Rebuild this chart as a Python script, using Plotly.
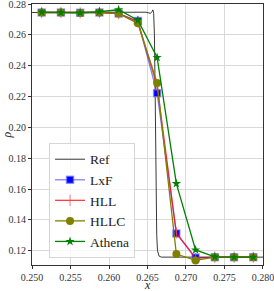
import plotly.graph_objects as go

x_cells = [0.25125, 0.25375, 0.25625, 0.25875, 0.26125, 0.26375, 0.26625, 0.26875, 0.27125, 0.27375, 0.27625, 0.27875]
rho_lxf = [0.2745, 0.2745, 0.2743, 0.2745, 0.2738, 0.2690, 0.2222, 0.1312, 0.1155, 0.1158, 0.1158, 0.1158]
rho_hll = [0.2745, 0.2745, 0.2743, 0.2745, 0.2738, 0.2685, 0.2270, 0.1315, 0.1150, 0.1158, 0.1158, 0.1158]
rho_hllc = [0.2745, 0.2745, 0.2742, 0.2745, 0.2738, 0.2675, 0.2288, 0.1178, 0.1137, 0.1158, 0.1158, 0.1158]
rho_athena = [0.2748, 0.2745, 0.2743, 0.2750, 0.2763, 0.2695, 0.2453, 0.1635, 0.1205, 0.1160, 0.1158, 0.1158]

x_ref = [0.2500, 0.2600, 0.2640, 0.2648, 0.2652, 0.2654, 0.2656, 0.2657, 0.2658, 0.2659, 0.2660, 0.2661, 0.2662, 0.2663, 0.2665, 0.2668, 0.2700, 0.2850]
rho_ref = [0.2745, 0.2745, 0.2744, 0.2747, 0.2742, 0.2740, 0.2752, 0.2762, 0.2740, 0.2600, 0.2200, 0.1700, 0.1300, 0.1200, 0.1165, 0.1158, 0.1158, 0.1158]

x_ticks = [0.250, 0.255, 0.260, 0.265, 0.270, 0.275, 0.280]
y_ticks = [0.12, 0.14, 0.16, 0.18, 0.20, 0.22, 0.24, 0.26, 0.28]

fig = go.Figure()
fig.add_trace(go.Scatter(x=x_ref, y=rho_ref, mode="lines", name="Ref",
                         line=dict(color="#222222", width=0.9)))
fig.add_trace(go.Scatter(x=x_cells, y=rho_lxf, mode="lines+markers", name="LxF",
                         line=dict(color="rgba(0,0,255,0.5)", width=1.3),
                         marker=dict(symbol="square", size=7, color="#0000ff",
                                     line=dict(width=1.5, color="rgba(110,110,255,0.6)"))))
fig.add_trace(go.Scatter(x=x_cells, y=rho_hll, mode="lines+markers", name="HLL",
                         line=dict(color="rgba(255,0,0,0.75)", width=1.3),
                         marker=dict(symbol="line-ns", size=8, color="rgba(255,0,0,0.6)",
                                     line=dict(width=1, color="rgba(255,80,80,0.8)"))))
fig.add_trace(go.Scatter(x=x_cells, y=rho_hllc, mode="lines+markers", name="HLLC",
                         line=dict(color="#808000", width=1.3),
                         marker=dict(symbol="circle", size=8, color="#808000")))
fig.add_trace(go.Scatter(x=x_cells, y=rho_athena, mode="lines+markers", name="Athena",
                         line=dict(color="#008000", width=1.3),
                         marker=dict(symbol="star", size=7, color="#008000")))

fig.update_layout(
    width=274, height=291,
    margin=dict(l=32, r=11, t=4, b=26, autoexpand=False),
    paper_bgcolor="white", plot_bgcolor="white",
    font=dict(family="Liberation Serif", size=10, color="#333333"),
    showlegend=True,
    legend=dict(x=0.446, y=0.027, xref="paper", yref="paper",
                xanchor="right", yanchor="bottom",
                bgcolor="rgba(255,255,255,0.8)", bordercolor="#d6d6d6", borderwidth=1,
                font=dict(family="Liberation Serif", size=13.5, color="#222222"),
                tracegroupgap=0, itemwidth=30),
    annotations=[
        dict(text="<i>x</i>", xref="paper", yref="paper", x=0.5, y=-0.076,
             xanchor="center", yanchor="middle", showarrow=False, borderpad=0,
             font=dict(family="Liberation Serif", size=12, color="#222222")),
    ],
)
fig.update_xaxes(range=[0.24999, 0.28001], tickvals=x_ticks,
                 ticktext=[f"{v:.3f}" for v in x_ticks], automargin=False,
                 ticklabeloverflow="allow",
                 showgrid=True, gridcolor="#d9d9d9", gridwidth=1,
                 showline=True, linecolor="#333333", linewidth=1, mirror=True,
                 ticks="outside", ticklen=3, tickcolor="#333333",
                 zeroline=False)
fig.update_yaxes(range=[0.1107, 0.28002], tickvals=y_ticks,
                 ticktext=[f"{v:.2f}" for v in y_ticks], automargin=False,
                 ticklabeloverflow="allow",
                 showgrid=True, gridcolor="#d9d9d9", gridwidth=1,
                 showline=True, linecolor="#333333", linewidth=1, mirror=True,
                 ticks="outside", ticklen=3, tickcolor="#333333",
                 zeroline=False,
                 title=dict(text="<i>ρ</i>", standoff=0, font=dict(size=12)))

fig.write_html("out.html", config={"displayModeBar": False},
               post_script="document.body.style.margin='0';document.body.style.overflow='hidden';")
